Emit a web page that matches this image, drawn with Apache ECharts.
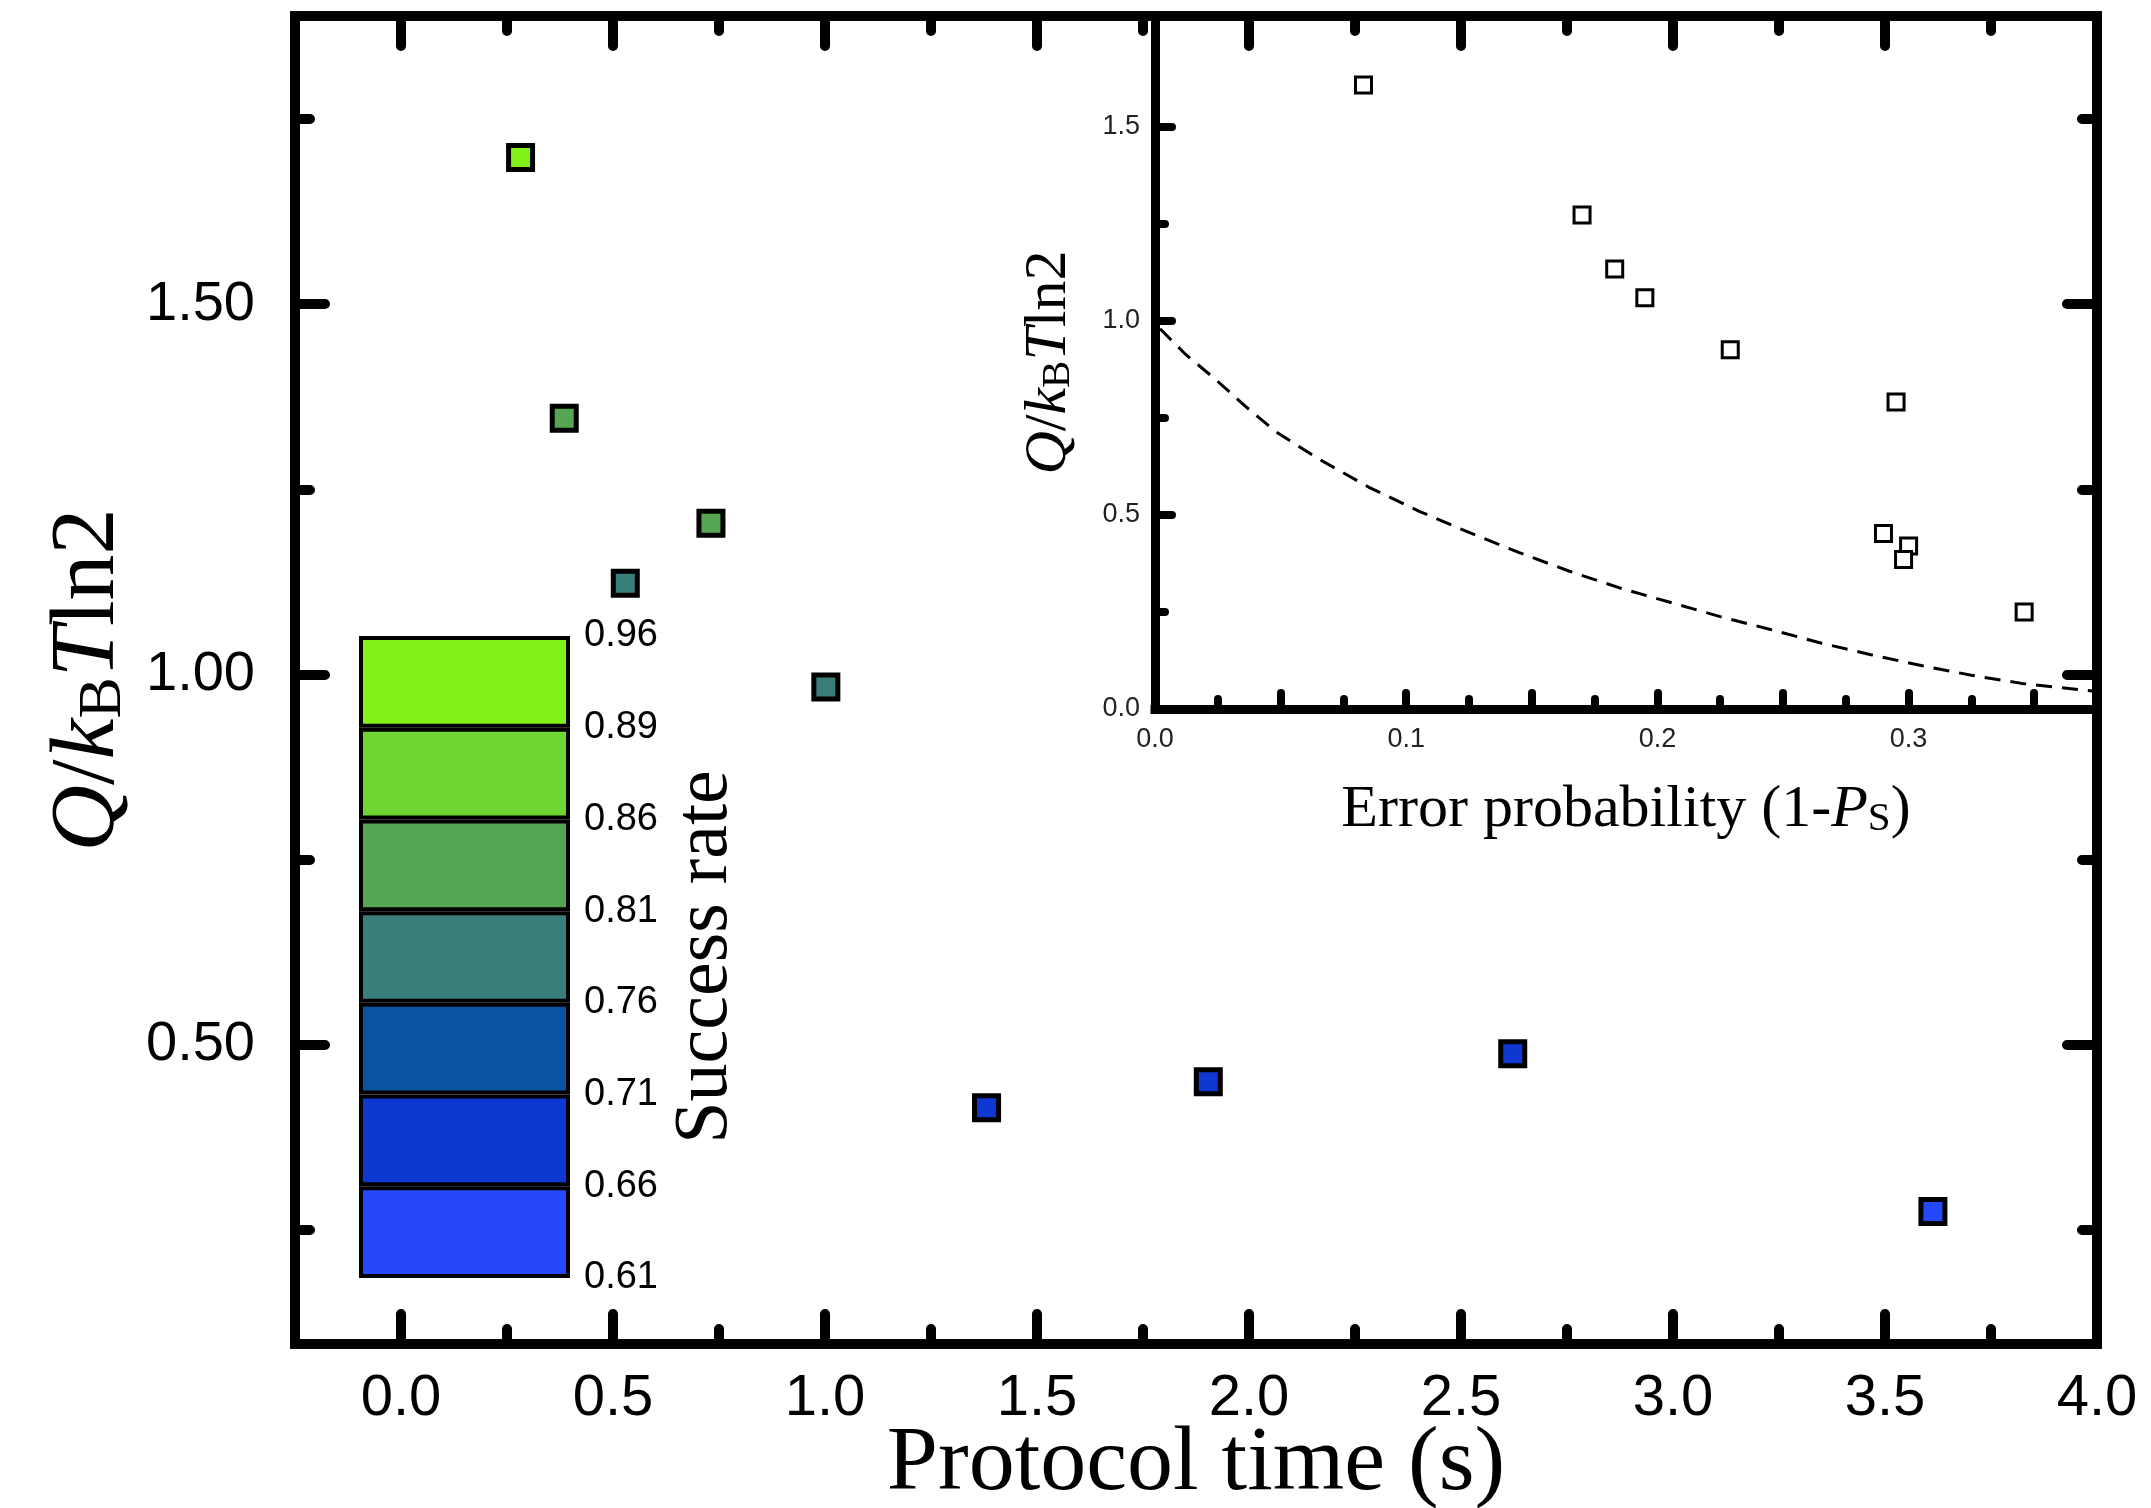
<!DOCTYPE html>
<html>
<head>
<meta charset="utf-8">
<script src="https://cdn.jsdelivr.net/npm/echarts@6/dist/echarts.min.js"></script>
<style>
html,body{margin:0;padding:0;background:#fff;}
#c{width:2151px;height:1508px;}
</style>
</head>
<body>
<div id="c"></div>
<script>
// ---------------- main panel data ----------------
const protocolTime = [0.282, 0.385, 0.529, 0.731, 1.002, 1.381, 1.904, 2.622, 3.613];
const heatMain     = [1.698, 1.346, 1.123, 1.204, 0.983, 0.415, 0.450, 0.488, 0.275];
const successRate  = [0.915, 0.827, 0.803, 0.814, 0.768, 0.703, 0.708, 0.700, 0.654];

// ---------------- inset data ----------------
const errorProb = [0.083, 0.170, 0.183, 0.195, 0.229, 0.295, 0.290, 0.300, 0.298, 0.346];
const heatInset = [1.608, 1.273, 1.134, 1.060, 0.926, 0.791, 0.452, 0.420, 0.385, 0.250];
// dashed curve
const boundX = [0.002, 0.012, 0.024, 0.036, 0.048, 0.065, 0.085, 0.105, 0.125, 0.145, 0.165, 0.185, 0.205, 0.225, 0.245, 0.265, 0.285, 0.305, 0.325, 0.345, 0.375];
const boundY = [0.98, 0.915, 0.85, 0.78, 0.715, 0.645, 0.572, 0.51, 0.455, 0.403, 0.355, 0.312, 0.275, 0.238, 0.205, 0.17, 0.14, 0.112, 0.087, 0.066, 0.045];

// ---------------- colour bar ----------------
const rateBounds = ['0.61', '0.66', '0.71', '0.76', '0.81', '0.86', '0.89', '0.96'];
const rateColors = ['#2448FA', '#0F38D2', '#0A52A2', '#3A7E7C', '#56A552', '#6ED632', '#80F21A'];

// ---------------- tick values ----------------
const mainXMajor = [0, 0.5, 1.0, 1.5, 2.0, 2.5, 3.0, 3.5, 4.0];
const mainXMinor = [0.25, 0.75, 1.25, 1.75, 2.25, 2.75, 3.25, 3.75];
const mainYMajor = [0.5, 1.0, 1.5];
const mainYMinor = [0.25, 0.75, 1.25, 1.75];
const insetXMajor = [0, 0.05, 0.1, 0.15, 0.2, 0.25, 0.3, 0.35];
const insetXMinor = [0.025, 0.075, 0.125, 0.175, 0.225, 0.275, 0.325];
const insetXLabels = [0, 0.1, 0.2, 0.3];
const insetYMajor = [0, 0.5, 1.0, 1.5];
const insetYMinor = [0.25, 0.75, 1.25];

const SANS = "'Liberation Sans', Arial, sans-serif";
const SERIF = "'Liberation Serif', 'Times New Roman', serif";

function tickAxis(o) {
  const ax = {
    type: 'value', min: o.min, max: o.max, gridIndex: o.grid, position: o.pos,
    axisLine: {show: o.line, onZero: false, lineStyle: {color: '#000', width: o.lw || 10, cap: 'square'}},
    axisTick: {show: true, inside: true, length: o.len, customValues: o.ticks,
               lineStyle: {color: '#000', width: o.tw, cap: 'round'}},
    axisLabel: {show: false},
    splitLine: {show: false},
    nameMoveOverlap: false
  };
  return Object.assign(ax, o.extra || {});
}

const mainYName = '{i|Q}{n|/}{i|k}{s|B}{i|T}{n|ln2}';
const mainRich = {
  i: {fontFamily: SERIF, fontStyle: 'italic', fontSize: 92, lineHeight: 120, verticalAlign: 'bottom', color: '#000'},
  n: {fontFamily: SERIF, fontSize: 92, lineHeight: 120, verticalAlign: 'bottom', color: '#000'},
  s: {fontFamily: SERIF, fontSize: 62, lineHeight: 58, verticalAlign: 'bottom', color: '#000'}
};
const insetRich = {
  i: {fontFamily: SERIF, fontStyle: 'italic', fontSize: 60, lineHeight: 78, verticalAlign: 'bottom', color: '#000'},
  n: {fontFamily: SERIF, fontSize: 60, lineHeight: 78, verticalAlign: 'bottom', color: '#000'},
  s: {fontFamily: SERIF, fontSize: 41, lineHeight: 38, verticalAlign: 'bottom', color: '#000'}
};

const MX = [-0.25, 4.0], MY = [0.096, 1.889];
const IX = [0, 0.375], IY = [0, 1.786];

const xAxes = [
  tickAxis({min: MX[0], max: MX[1], grid: 0, pos: 'bottom', line: true, len: 30, tw: 10, ticks: mainXMajor,
    extra: {
      axisLabel: {show: true, customValues: mainXMajor, formatter: v => v.toFixed(1),
                  fontSize: 58, fontFamily: SANS, color: '#000', margin: 26},
      name: 'Protocol time (s)', nameLocation: 'middle', nameGap: 75,
      nameTextStyle: {fontFamily: SERIF, fontSize: 92, color: '#000'}
    }}),
  tickAxis({min: MX[0], max: MX[1], grid: 0, pos: 'bottom', line: false, len: 15, tw: 10, ticks: mainXMinor}),
  tickAxis({min: MX[0], max: MX[1], grid: 0, pos: 'top', line: true, len: 30, tw: 10, ticks: mainXMajor}),
  tickAxis({min: MX[0], max: MX[1], grid: 0, pos: 'top', line: false, len: 15, tw: 10, ticks: mainXMinor}),
  tickAxis({min: IX[0], max: IX[1], grid: 1, pos: 'bottom', line: true, lw: 9, len: 16, tw: 8, ticks: insetXMajor,
    extra: {
      axisLabel: {show: true, customValues: insetXLabels, formatter: v => v.toFixed(1),
                  fontSize: 27, fontFamily: SANS, color: '#222', margin: 17},
      name: '{n|Error probability (1-}{i|P}{s|S}{n|)}', nameLocation: 'middle', nameGap: 53,
      nameTextStyle: {fontFamily: SERIF, fontSize: 60, color: '#000', rich: insetRich}
    }}),
  tickAxis({min: IX[0], max: IX[1], grid: 1, pos: 'bottom', line: false, len: 10, tw: 8, ticks: insetXMinor}),
  {type: 'category', gridIndex: 2, data: ['bar'], show: false}
];

const yAxes = [
  tickAxis({min: MY[0], max: MY[1], grid: 0, pos: 'left', line: true, len: 30, tw: 10, ticks: mainYMajor,
    extra: {
      axisLabel: {show: true, customValues: mainYMajor, formatter: v => v.toFixed(2),
                  fontSize: 56, fontFamily: SANS, color: '#000', margin: 40},
      name: mainYName, nameLocation: 'middle', nameGap: 160,
      nameTextStyle: {fontFamily: SERIF, fontSize: 92, color: '#000', rich: mainRich}
    }}),
  tickAxis({min: MY[0], max: MY[1], grid: 0, pos: 'left', line: false, len: 15, tw: 10, ticks: mainYMinor}),
  tickAxis({min: MY[0], max: MY[1], grid: 0, pos: 'right', line: true, len: 30, tw: 10, ticks: mainYMajor}),
  tickAxis({min: MY[0], max: MY[1], grid: 0, pos: 'right', line: false, len: 15, tw: 10, ticks: mainYMinor}),
  tickAxis({min: IY[0], max: IY[1], grid: 1, pos: 'left', line: true, lw: 9, len: 17, tw: 8, ticks: insetYMajor,
    extra: {
      axisLabel: {show: true, customValues: insetYMajor, formatter: v => v.toFixed(1),
                  fontSize: 27, fontFamily: SANS, color: '#222', margin: 15},
      name: mainYName, nameLocation: 'middle', nameGap: 76,
      nameTextStyle: {fontFamily: SERIF, fontSize: 60, color: '#000', rich: insetRich}
    }}),
  tickAxis({min: IY[0], max: IY[1], grid: 1, pos: 'left', line: false, len: 10, tw: 8, ticks: insetYMinor}),
  {type: 'value', gridIndex: 2, min: 0, max: rateColors.length, interval: 1, position: 'right',
   axisLine: {show: false}, axisTick: {show: false}, splitLine: {show: false},
   axisLabel: {show: true, formatter: v => rateBounds[v], fontSize: 38, fontFamily: SANS, color: '#000', margin: 14},
   name: 'Success rate', nameLocation: 'middle', nameGap: 98, nameMoveOverlap: false,
   nameTextStyle: {fontFamily: SERIF, fontSize: 76, color: '#000'}}
];

const series = [
  {
    type: 'scatter', xAxisIndex: 0, yAxisIndex: 0, symbol: 'rect', symbolSize: 24,
    itemStyle: {borderColor: '#000', borderWidth: 5, opacity: 1},
    data: protocolTime.map((x, i) => [x, heatMain[i], successRate[i]]),
    z: 5
  },
  {
    type: 'line', xAxisIndex: 4, yAxisIndex: 4, showSymbol: false, smooth: false,
    lineStyle: {color: '#000', width: 3, type: [16, 10]},
    data: boundX.map((x, i) => [x, boundY[i]]),
    z: 3
  },
  {
    type: 'scatter', xAxisIndex: 4, yAxisIndex: 4, symbol: 'rect', symbolSize: 16,
    itemStyle: {color: '#fff', borderColor: '#000', borderWidth: 3, opacity: 1},
    data: errorProb.map((x, i) => [x, heatInset[i]]),
    z: 5
  }
];
rateColors.forEach((c) => {
  series.push({
    type: 'bar', xAxisIndex: 6, yAxisIndex: 6, stack: 'cb', barWidth: '100%', silent: true,
    itemStyle: {color: c, borderColor: '#000', borderWidth: 4},
    data: [1]
  });
});

const option = {
  animation: false,
  backgroundColor: '#fff',
  textStyle: {fontFamily: SANS},
  grid: [
    {left: 295, top: 16, width: 1802, height: 1328, containLabel: false, outerBoundsMode: 'none'},
    {left: 1155, top: 16, width: 942, height: 693, containLabel: false, outerBoundsMode: 'none'},
    {left: 359, top: 636, width: 211, height: 642, containLabel: false, outerBoundsMode: 'none'}
  ],
  visualMap: {
    type: 'piecewise', show: false, seriesIndex: 0, dimension: 2,
    pieces: rateColors.map((c, i) => ({gte: +rateBounds[i], lt: +rateBounds[i + 1], color: c}))
  },
  xAxis: xAxes,
  yAxis: yAxes,
  series: series
};

const chart = echarts.init(document.getElementById('c'), null, {renderer: 'canvas', width: 2151, height: 1508});
chart.setOption(option);
</script>
</body>
</html>
